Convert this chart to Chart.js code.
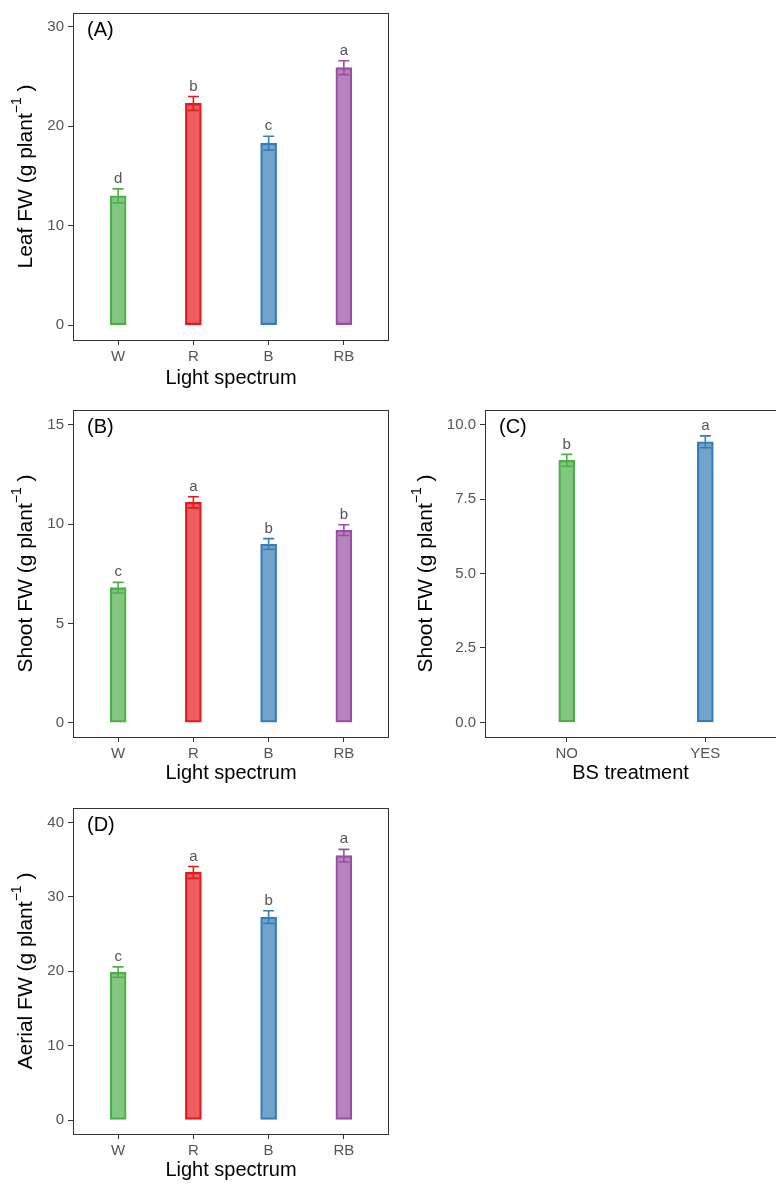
<!DOCTYPE html>
<html>
<head>
<meta charset="utf-8">
<script src="https://cdn.jsdelivr.net/npm/chart.js@4.4.0/dist/chart.umd.min.js"></script>
<style>
  body { margin: 0; background: #fff; }
  #wrap { position: relative; width: 776px; height: 1184px; overflow: hidden; }
  canvas { position: absolute; }
</style>
</head>
<body>
<div id="wrap">
  <canvas id="panelA" width="400" height="395" style="left:0;top:0"></canvas>
  <canvas id="panelB" width="400" height="395" style="left:0;top:395px"></canvas>
  <canvas id="panelC" width="376" height="395" style="left:400px;top:395px"></canvas>
  <canvas id="panelD" width="400" height="394" style="left:0;top:790px"></canvas>
</div>
<script>
// data
const spectrum = ['W', 'R', 'B', 'RB'];
const bsGroups = ['NO', 'YES'];

const leafFW = [13.0, 22.3, 18.3, 25.9];
const leafSE = [0.7, 0.7, 0.7, 0.7];
const leafLetters = ['d', 'b', 'c', 'a'];

const shootFW = [6.8, 11.1, 9.0, 9.7];
const shootSE = [0.27, 0.28, 0.27, 0.27];
const shootLetters = ['c', 'a', 'b', 'b'];

const bsShootFW = [8.8, 9.42];
const bsShootSE = [0.2, 0.2];
const bsLetters = ['b', 'a'];

const aerialFW = [19.9, 33.3, 27.3, 35.55];
const aerialSE = [0.7, 0.8, 0.85, 0.85];
const aerialLetters = ['c', 'a', 'b', 'a'];

const leafTicks = [0, 10, 20, 30];
const shootTicks = [0, 5, 10, 15];
const bsTicks = [0, 2.5, 5, 7.5, 10];
const aerialTicks = [0, 10, 20, 30, 40];

const strong = { W: '#4DAF4A', R: '#E41A1C', B: '#377EB8', RB: '#984EA3', NO: '#4DAF4A', YES: '#377EB8' };
const soft = {
  W: 'rgba(77,175,74,0.7)', R: 'rgba(228,26,28,0.7)', B: 'rgba(55,126,184,0.7)',
  RB: 'rgba(152,78,163,0.7)', NO: 'rgba(77,175,74,0.7)', YES: 'rgba(55,126,184,0.7)'
};

const FONT = "'Liberation Sans', Arial, sans-serif";
const TICK_COLOR = '#555555';

function makePanel(id, p) {
  const canvas = document.getElementById(id);
  const W = canvas.width, H = canvas.height;

  const extras = {
    id: 'extras',
    afterDatasetsDraw(chart) {
      const ctx = chart.ctx;
      const xs = chart.scales.x, ys = chart.scales.y;
      ctx.save();
      p.cats.forEach((c, i) => {
        const x = xs.getPixelForValue(i + 1);
        const top = ys.getPixelForValue(p.values[i] + p.se[i]);
        const bot = ys.getPixelForValue(p.values[i] - p.se[i]);
        ctx.strokeStyle = strong[c];
        ctx.lineWidth = 1.6;
        ctx.beginPath();
        ctx.moveTo(x, top); ctx.lineTo(x, bot);
        ctx.moveTo(x - 5.5, top); ctx.lineTo(x + 5.5, top);
        ctx.moveTo(x - 5.5, bot); ctx.lineTo(x + 5.5, bot);
        ctx.stroke();
        ctx.fillStyle = TICK_COLOR;
        ctx.font = '15px ' + FONT;
        ctx.textAlign = 'center';
        ctx.textBaseline = 'middle';
        ctx.fillText(p.letters[i], x, top - 10);
      });
      ctx.restore();
    },
    afterDraw(chart) {
      const ctx = chart.ctx;
      const a = chart.chartArea;
      ctx.save();
      // panel border
      ctx.strokeStyle = '#333333';
      ctx.lineWidth = 1;
      ctx.strokeRect(a.left + 0.5, a.top + 0.5, a.right - a.left + (p.openRight ? 30 : -1), a.bottom - a.top);
      // panel tag
      ctx.fillStyle = '#000';
      ctx.font = '20px ' + FONT;
      ctx.textAlign = 'left';
      ctx.textBaseline = 'middle';
      ctx.fillText(p.tag, a.left + 14, a.top + 17);
      // y title with superscript
      ctx.translate(26, (a.top + a.bottom) / 2);
      ctx.rotate(-Math.PI / 2);
      const main = p.yTitle + ' (g plant';
      const sup = '\u22121';
      const end = ' )';
      ctx.font = '21px ' + FONT;
      const w1 = ctx.measureText(main).width;
      const w3 = ctx.measureText(end).width;
      ctx.font = '14px ' + FONT;
      const w2 = ctx.measureText(sup).width;
      let x0 = -(w1 + w2 + w3) / 2;
      ctx.textAlign = 'left';
      ctx.font = '21px ' + FONT;
      ctx.fillText(main, x0, 0);
      ctx.font = '14px ' + FONT;
      ctx.fillText(sup, x0 + w1, -9);
      ctx.font = '21px ' + FONT;
      ctx.fillText(end, x0 + w1 + w2, 0);
      ctx.restore();
    }
  };

  return new Chart(canvas, {
    type: 'bar',
    data: {
      datasets: [{
        data: p.values.map((v, i) => ({ x: i + 1, y: v })),
        backgroundColor: p.cats.map(c => soft[c]),
        borderColor: p.cats.map(c => strong[c]),
        borderWidth: 1.6,
        borderSkipped: false,
        barThickness: 16
      }]
    },
    options: {
      responsive: false,
      animation: false,
      devicePixelRatio: 1,
      layout: { padding: { top: p.top, right: W - p.right, left: 0, bottom: 0 } },
      plugins: { legend: { display: false }, tooltip: { enabled: false } },
      scales: {
        x: {
          type: 'linear',
          offset: false,
          min: p.xMin, max: p.xMax,
          afterBuildTicks: s => { s.ticks = p.cats.map((c, i) => ({ value: i + 1 })); },
          afterFit: s => { s.height = H - p.bottom; },
          grid: { display: true, drawOnChartArea: false, drawTicks: true, tickLength: 5, color: '#333', offset: false },
          border: { display: false },
          ticks: {
            padding: 3,
            color: TICK_COLOR,
            font: { size: 15, family: FONT },
            maxRotation: 0,
            callback: v => p.cats[v - 1]
          },
          title: {
            display: true,
            text: p.xTitle,
            color: '#000',
            font: { size: 20, family: FONT, lineHeight: 1.2 },
            padding: { top: 0, bottom: p.xTitlePad }
          }
        },
        y: {
          min: p.yMin, max: p.yMax,
          afterBuildTicks: s => { s.ticks = p.yTicks.map(v => ({ value: v })); },
          afterFit: s => { s.width = p.left; },
          grid: { display: true, drawOnChartArea: false, drawTicks: true, tickLength: 5, color: '#333' },
          border: { display: false },
          ticks: {
            padding: 4,
            color: TICK_COLOR,
            font: { size: 15, family: FONT },
            callback: v => p.decimals ? v.toFixed(1) : String(v)
          }
        }
      }
    },
    plugins: [extras]
  });
}

makePanel('panelA', {
  cats: spectrum, values: leafFW, se: leafSE, letters: leafLetters,
  yTicks: leafTicks, yMin: -1.5, yMax: 31.4, xMin: 0.4, xMax: 4.6,
  left: 73, right: 389, top: 13, bottom: 340, xTitlePad: 5,
  tag: '(A)', yTitle: 'Leaf FW', xTitle: 'Light spectrum'
});

makePanel('panelB', {
  cats: spectrum, values: shootFW, se: shootSE, letters: shootLetters,
  yTicks: shootTicks, yMin: -0.72, yMax: 15.75, xMin: 0.4, xMax: 4.6,
  left: 73, right: 389, top: 15, bottom: 342, xTitlePad: 5,
  tag: '(B)', yTitle: 'Shoot FW', xTitle: 'Light spectrum'
});

makePanel('panelC', {
  cats: bsGroups, values: bsShootFW, se: bsShootSE, letters: bsLetters,
  yTicks: bsTicks, yMin: -0.49, yMax: 10.49, xMin: 0.41, xMax: 2.51, decimals: true,
  left: 85, right: 376, top: 15, bottom: 342, xTitlePad: 5, openRight: true,
  tag: '(C)', yTitle: 'Shoot FW', xTitle: 'BS treatment'
});

makePanel('panelD', {
  cats: spectrum, values: aerialFW, se: aerialSE, letters: aerialLetters,
  yTicks: aerialTicks, yMin: -1.88, yMax: 41.96, xMin: 0.4, xMax: 4.6,
  left: 73, right: 389, top: 18, bottom: 344, xTitlePad: 2,
  tag: '(D)', yTitle: 'Aerial FW', xTitle: 'Light spectrum'
});
</script>
</body>
</html>
